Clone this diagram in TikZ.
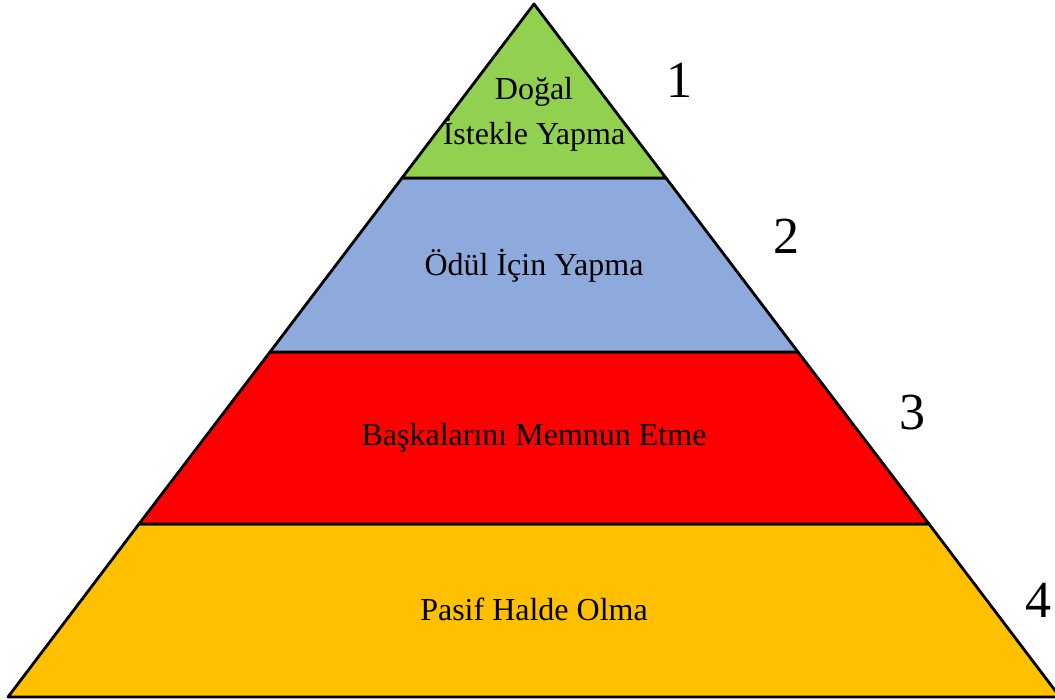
\documentclass[tikz,border=0pt]{standalone}
\usepackage{fontspec}
\setmainfont{Liberation Serif}
\usepackage{tikz}
\definecolor{kat1}{HTML}{92D050}
\definecolor{kat2}{HTML}{8EA9DB}
\definecolor{kat3}{HTML}{FF0000}
\definecolor{kat4}{HTML}{FFC000}
\tikzset{
	katman/.style={line width=2.8pt, line join=round, draw=black},
	yazi/.style={font=\fontsize{32}{40}\selectfont, align=center, inner sep=0pt},
	sayi/.style={font=\fontsize{52}{58}\selectfont, inner sep=0pt}
}

\begin{document}
\begin{tikzpicture}[x=1pt, y=-1pt]
		%%%%% START %%%%%
		
		\clip (0, 0) rectangle (1055, 700);
		\fill[white] (0, 0) rectangle (1055, 700);
		
		\draw[katman, fill=kat4] (139, 524) -- (929, 524) -- (1060, 697) -- (8, 697) -- cycle;
		\draw[katman, fill=kat3] (270, 352) -- (798, 352) -- (929, 524) -- (139, 524) -- cycle;
		\draw[katman, fill=kat2] (402, 178) -- (666, 178) -- (798, 352) -- (270, 352) -- cycle;
		\draw[katman, fill=kat1] (534, 4) -- (666, 178) -- (402, 178) -- cycle;
		
		\node[yazi] (dogal) at (534, 114) {Doğal\\[5pt]İstekle Yapma};
		\node[yazi] (odul) at (534, 266) {Ödül İçin Yapma};
		\node[yazi] (memnun) at (534, 438) {Başkalarını Memnun Etme};
		\node[yazi] (pasif) at (534, 609) {Pasif Halde Olma};
		
		\node[sayi] (bir) at (679, 80) {1};
		\node[sayi] (iki) at (786, 236) {2};
		\node[sayi] (uc) at (912, 413) {3};
		\node[sayi] (dort) at (1038, 600) {4};
		
		%%%%% END %%%%%
	\end{tikzpicture}
\end{document}
